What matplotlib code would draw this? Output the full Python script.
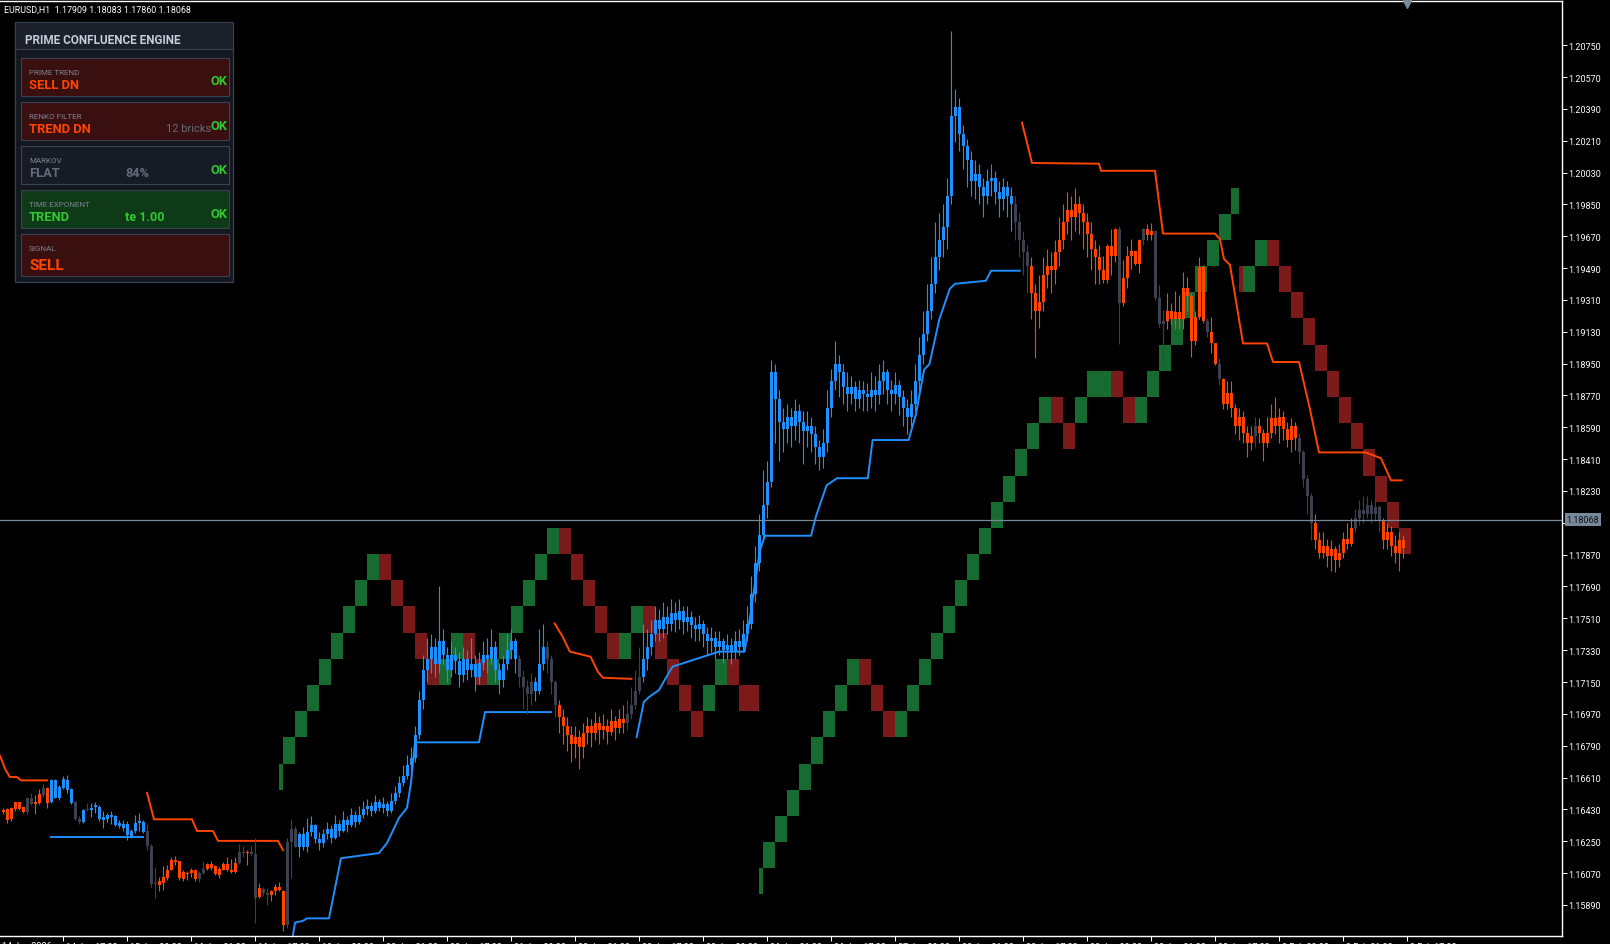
import numpy as np
import matplotlib
matplotlib.use("Agg")
import matplotlib.pyplot as plt
from matplotlib.patches import Rectangle
from matplotlib.transforms import ScaledTranslation

plt.rcParams['font.family'] = ['Roboto', 'DejaVu Sans']

# ---------------- data ----------------
header = "EURUSD,H1  1.17909 1.18083 1.17860 1.18068"
last_price = 1.18068

# bars 0..74
opens_a = [1.16428, 1.16432, 1.16378, 1.16432, 1.16469, 1.16441, 1.16415, 1.16493, 1.16459, 1.16465,
           1.16511, 1.16552, 1.16474, 1.16594, 1.16493, 1.16552, 1.16594, 1.16548, 1.16469, 1.16378,
           1.16359, 1.16433, 1.16428, 1.16441, 1.16446, 1.16385, 1.16378, 1.16400, 1.16391, 1.16354,
           1.16348, 1.16345, 1.16271, 1.16308, 1.16354, 1.16359, 1.16308, 1.16224, 1.16009, 1.16027,
           1.16016, 1.16040, 1.16090, 1.16145, 1.16136, 1.16034, 1.16071, 1.16071, 1.16090, 1.16034,
           1.16068, 1.16095, 1.16119, 1.16108, 1.16058, 1.16090, 1.16119, 1.16090, 1.16077, 1.16126,
           1.16191, 1.16182, 1.16188, 1.16178, 1.15933, 1.15979, 1.15957, 1.15948, 1.15966, 1.15990,
           1.15966, 1.15776, 1.16243, 1.16317, 1.16219]
highs_a = [1.16437, 1.16437, 1.16441, 1.16474, 1.16474, 1.16446, 1.16502, 1.16520, 1.16511, 1.16544,
           1.16576, 1.16557, 1.16603, 1.16603, 1.16566, 1.16618, 1.16622, 1.16552, 1.16478, 1.16391,
           1.16433, 1.16465, 1.16465, 1.16469, 1.16452, 1.16419, 1.16409, 1.16419, 1.16396, 1.16372,
           1.16372, 1.16363, 1.16317, 1.16400, 1.16409, 1.16372, 1.16345, 1.16234, 1.16105, 1.16049,
           1.16108, 1.16114, 1.16160, 1.16169, 1.16141, 1.16086, 1.16082, 1.16101, 1.16095, 1.16082,
           1.16141, 1.16126, 1.16141, 1.16114, 1.16105, 1.16132, 1.16160, 1.16151, 1.16160, 1.16234,
           1.16224, 1.16201, 1.16224, 1.16271, 1.16012, 1.15994, 1.15984, 1.15975, 1.16009, 1.16022,
           1.15975, 1.16271, 1.16378, 1.16335, 1.16300]
lows_a = [1.16404, 1.16354, 1.16363, 1.16419, 1.16428, 1.16409, 1.16404, 1.16452, 1.16404, 1.16459,
          1.16502, 1.16437, 1.16465, 1.16493, 1.16483, 1.16548, 1.16520, 1.16459, 1.16372, 1.16348,
          1.16354, 1.16419, 1.16385, 1.16409, 1.16367, 1.16326, 1.16359, 1.16345, 1.16335, 1.16326,
          1.16308, 1.16256, 1.16267, 1.16298, 1.16308, 1.16298, 1.16201, 1.15994, 1.15929, 1.15966,
          1.15975, 1.16031, 1.16086, 1.16114, 1.16031, 1.16027, 1.16031, 1.16049, 1.16027, 1.16022,
          1.16064, 1.16086, 1.16090, 1.16058, 1.16040, 1.16086, 1.16082, 1.16071, 1.16071, 1.16123,
          1.16160, 1.16114, 1.16169, 1.15790, 1.15929, 1.15938, 1.15892, 1.15910, 1.15948, 1.15966,
          1.15742, 1.15760, 1.16040, 1.16215, 1.16160]
closes_a = [1.16415, 1.16372, 1.16437, 1.16469, 1.16433, 1.16415, 1.16493, 1.16459, 1.16474, 1.16518,
            1.16552, 1.16465, 1.16594, 1.16496, 1.16557, 1.16603, 1.16539, 1.16465, 1.16378, 1.16359,
            1.16428, 1.16426, 1.16437, 1.16452, 1.16378, 1.16372, 1.16400, 1.16385, 1.16341, 1.16335,
            1.16326, 1.16285, 1.16308, 1.16354, 1.16363, 1.16304, 1.16224, 1.16009, 1.16016, 1.16003,
            1.16049, 1.16090, 1.16145, 1.16132, 1.16040, 1.16077, 1.16064, 1.16090, 1.16034, 1.16068,
            1.16095, 1.16119, 1.16101, 1.16064, 1.16095, 1.16123, 1.16086, 1.16077, 1.16126, 1.16188,
            1.16182, 1.16191, 1.16178, 1.15929, 1.15984, 1.15957, 1.15948, 1.15966, 1.15990, 1.15972,
            1.15776, 1.16243, 1.16317, 1.16219, 1.16290]

# bars 75..351 (each bar opens at the previous close)
closes_b = [1.1622, 1.1630, 1.1634, 1.1626, 1.1624, 1.1629, 1.1632, 1.1627, 1.1635, 1.1631,
            1.1637, 1.1634, 1.1640, 1.1636, 1.1640, 1.1643, 1.1645, 1.1642, 1.1647, 1.1644,
            1.1646, 1.1642, 1.1648, 1.1652, 1.1658, 1.1662, 1.1668, 1.1672, 1.1685, 1.1705,
            1.1722, 1.1728, 1.1735, 1.1725, 1.1738, 1.1730, 1.1722, 1.1730, 1.1727, 1.1719,
            1.1728, 1.1722, 1.1725, 1.1718, 1.1726, 1.1730, 1.1728, 1.1735, 1.1722, 1.1716,
            1.1725, 1.1733, 1.1738, 1.1728, 1.1718, 1.1712, 1.1708, 1.1715, 1.1710, 1.1725,
            1.1735, 1.1728, 1.1715, 1.1702, 1.1695, 1.1690, 1.1685, 1.1680, 1.1684, 1.1678,
            1.1686, 1.1690, 1.1686, 1.1692, 1.1688, 1.1690, 1.1687, 1.1693, 1.1689, 1.1694,
            1.1692, 1.1697, 1.1702, 1.1710, 1.1718, 1.1728, 1.1735, 1.1742, 1.1750, 1.1745,
            1.1752, 1.1748, 1.1754, 1.1750, 1.1755, 1.1749, 1.1752, 1.1747, 1.1745, 1.1748,
            1.1742, 1.1738, 1.1740, 1.1735, 1.1738, 1.1733, 1.1736, 1.1732, 1.1738, 1.1735,
            1.1742, 1.1748, 1.1765, 1.1782, 1.1798, 1.1815, 1.1828, 1.1890, 1.1875, 1.1862,
            1.1858, 1.1865, 1.1860, 1.1868, 1.1862, 1.1857, 1.1860, 1.1855, 1.1848, 1.1842,
            1.1850, 1.1870, 1.1885, 1.1895, 1.1890, 1.1882, 1.1878, 1.1882, 1.1875, 1.1880,
            1.1878, 1.1876, 1.1880, 1.1877, 1.1885, 1.1890, 1.1880, 1.1878, 1.1883, 1.1876,
            1.1870, 1.1865, 1.1872, 1.1885, 1.1900, 1.1912, 1.1925, 1.1940, 1.1955, 1.1965,
            1.1972, 1.1990, 1.2035, 1.2040, 1.2025, 1.2018, 1.2010, 1.1998, 1.2002, 1.1995,
            1.1990, 1.1998, 1.2000, 1.1992, 1.1988, 1.1995, 1.1990, 1.1985, 1.1975, 1.1965,
            1.1958, 1.1950, 1.1935, 1.1925, 1.1930, 1.1945, 1.1950, 1.1948, 1.1958, 1.1965,
            1.1975, 1.1982, 1.1978, 1.1985, 1.1980, 1.1975, 1.1968, 1.1960, 1.1955, 1.19478,
            1.19423, 1.19617, 1.19561, 1.19709, 1.19293, 1.19432, 1.19561, 1.19584, 1.19515, 1.19650,
            1.19709, 1.19676, 1.19700, 1.19321, 1.19173, 1.19191, 1.19247, 1.19200, 1.19240, 1.19200,
            1.19380, 1.19330, 1.19080, 1.19214, 1.19497, 1.19191, 1.19127, 1.19066, 1.18947, 1.18862,
            1.18720, 1.18785, 1.18700, 1.18600, 1.18650, 1.18560, 1.18500, 1.18540, 1.18600, 1.18560,
            1.18500, 1.18560, 1.18640, 1.18600, 1.18650, 1.18580, 1.18520, 1.18600, 1.18530, 1.18450,
            1.18300, 1.18200, 1.18050, 1.17950, 1.17880, 1.17920, 1.17860, 1.17900, 1.17840, 1.17880,
            1.17960, 1.17930, 1.18020, 1.18080, 1.18120, 1.18100, 1.18150, 1.18100, 1.18140, 1.18060,
            1.17950, 1.18000, 1.17920, 1.17880, 1.17950, 1.17909, 1.18068]
highs_b = [1.1633, 1.1638, 1.1639, 1.1635, 1.1630, 1.1632, 1.1636, 1.1634, 1.1640, 1.1637,
           1.1642, 1.1639, 1.1644, 1.1642, 1.1645, 1.1648, 1.1649, 1.1647, 1.1651, 1.1649,
           1.1650, 1.1648, 1.1652, 1.1656, 1.1662, 1.1668, 1.1674, 1.1678, 1.1690, 1.1710,
           1.1730, 1.1740, 1.1742, 1.1740, 1.1769, 1.1745, 1.1735, 1.1738, 1.1735, 1.1732,
           1.1735, 1.1733, 1.1740, 1.1730, 1.1732, 1.1738, 1.1740, 1.1745, 1.1738, 1.1726,
           1.1730, 1.1742, 1.1745, 1.1740, 1.1730, 1.1722, 1.1716, 1.1720, 1.1718, 1.1745,
           1.1748, 1.1738, 1.1730, 1.1716, 1.1705, 1.1700, 1.1695, 1.1690, 1.1690, 1.1688,
           1.1692, 1.1695, 1.1694, 1.1698, 1.1696, 1.1697, 1.1694, 1.1700, 1.1696, 1.1700,
           1.1702, 1.1705, 1.1712, 1.1722, 1.1735, 1.1748, 1.1745, 1.1750, 1.1758, 1.1756,
           1.1760, 1.1758, 1.1762, 1.1760, 1.1762, 1.1758, 1.1758, 1.1755, 1.1752, 1.1753,
           1.1750, 1.1746, 1.1746, 1.1744, 1.1744, 1.1740, 1.1742, 1.1740, 1.1744, 1.1745,
           1.1750, 1.1758, 1.1775, 1.1792, 1.1810, 1.1835, 1.1840, 1.1897, 1.1895, 1.1880,
           1.1870, 1.1872, 1.1870, 1.1875, 1.1872, 1.1868, 1.1868, 1.1865, 1.1860, 1.1852,
           1.1858, 1.1880, 1.1892, 1.1908, 1.1900, 1.1895, 1.1890, 1.1888, 1.1885, 1.1886,
           1.1885, 1.1884, 1.1890, 1.1888, 1.1895, 1.1897, 1.1892, 1.1886, 1.1890, 1.1886,
           1.1880, 1.1875, 1.1880, 1.1895, 1.1910, 1.1925, 1.1940, 1.1955, 1.1975, 1.1980,
           1.1985, 1.2000, 1.2083, 1.2050, 1.2045, 1.2030, 1.2022, 1.2015, 1.2010, 1.2008,
           1.2000, 1.2005, 1.2008, 1.2004, 1.1998, 1.2000, 1.1998, 1.1995, 1.1990, 1.1980,
           1.1970, 1.1962, 1.1955, 1.1940, 1.1945, 1.1955, 1.1960, 1.1958, 1.1965, 1.1978,
           1.1985, 1.1992, 1.1990, 1.1994, 1.1990, 1.1985, 1.1980, 1.1975, 1.1965, 1.1962,
           1.19561, 1.19626, 1.19709, 1.19718, 1.19728, 1.19534, 1.19617, 1.19654, 1.19589, 1.19654,
           1.19718, 1.19737, 1.19746, 1.19700, 1.19395, 1.19251, 1.19349, 1.19290, 1.19360, 1.19340,
           1.19469, 1.19441, 1.19349, 1.19247, 1.19552, 1.19510, 1.19210, 1.19214, 1.19066, 1.18979,
           1.18868, 1.18850, 1.18850, 1.18720, 1.18700, 1.18680, 1.18600, 1.18600, 1.18650, 1.18640,
           1.18580, 1.18650, 1.18720, 1.18760, 1.18700, 1.18680, 1.18620, 1.18640, 1.18620, 1.18560,
           1.18460, 1.18320, 1.18220, 1.18100, 1.18000, 1.18000, 1.17960, 1.17950, 1.17920, 1.17930,
           1.18000, 1.18050, 1.18080, 1.18130, 1.18180, 1.18200, 1.18200, 1.18180, 1.18190, 1.18150,
           1.18080, 1.18050, 1.18030, 1.17980, 1.18000, 1.17980, 1.18083]
lows_b = [1.1620, 1.1619, 1.1628, 1.1624, 1.1620, 1.1622, 1.1626, 1.1624, 1.1626, 1.1628,
          1.1630, 1.1630, 1.1633, 1.1633, 1.1635, 1.1638, 1.1640, 1.1639, 1.1641, 1.1642,
          1.1641, 1.1639, 1.1641, 1.1646, 1.1650, 1.1656, 1.1660, 1.1665, 1.1670, 1.1683,
          1.1700, 1.1715, 1.1720, 1.1718, 1.1720, 1.1725, 1.1715, 1.1718, 1.1720, 1.1712,
          1.1715, 1.1716, 1.1718, 1.1710, 1.1714, 1.1722, 1.1720, 1.1725, 1.1715, 1.1708,
          1.1712, 1.1722, 1.1728, 1.1720, 1.1712, 1.1700, 1.1697, 1.1702, 1.1704, 1.1708,
          1.1722, 1.1720, 1.1708, 1.1695, 1.1686, 1.1680, 1.1676, 1.1670, 1.1672, 1.1666,
          1.1672, 1.1680, 1.1678, 1.1682, 1.1680, 1.1683, 1.1680, 1.1685, 1.1682, 1.1686,
          1.1686, 1.1688, 1.1694, 1.1700, 1.1708, 1.1715, 1.1722, 1.1730, 1.1738, 1.1738,
          1.1740, 1.1742, 1.1744, 1.1743, 1.1745, 1.1742, 1.1744, 1.1740, 1.1738, 1.1738,
          1.1735, 1.1730, 1.1732, 1.1728, 1.1730, 1.1726, 1.1728, 1.1725, 1.1728, 1.1730,
          1.1732, 1.1738, 1.1745, 1.1760, 1.1778, 1.1795, 1.1808, 1.1825, 1.1850, 1.1840,
          1.1845, 1.1850, 1.1848, 1.1852, 1.1850, 1.1838, 1.1848, 1.1845, 1.1838, 1.1835,
          1.1836, 1.1845, 1.1865, 1.1880, 1.1876, 1.1872, 1.1868, 1.1872, 1.1868, 1.1870,
          1.1868, 1.1868, 1.1870, 1.1868, 1.1872, 1.1878, 1.1872, 1.1868, 1.1872, 1.1866,
          1.1860, 1.1855, 1.1860, 1.1868, 1.1880, 1.1895, 1.1908, 1.1920, 1.1935, 1.1948,
          1.1955, 1.1960, 1.1985, 1.2020, 1.2015, 1.2005, 1.1995, 1.1990, 1.1988, 1.1985,
          1.1978, 1.1985, 1.1990, 1.1985, 1.1978, 1.1982, 1.1978, 1.1970, 1.1965, 1.1955,
          1.1945, 1.1935, 1.1920, 1.1898, 1.1915, 1.1925, 1.1938, 1.1935, 1.1940, 1.1950,
          1.1960, 1.1968, 1.1965, 1.1970, 1.1968, 1.1960, 1.1955, 1.1948, 1.1940, 1.1940,
          1.19404, 1.19404, 1.19450, 1.19524, 1.19062, 1.19275, 1.19376, 1.19487, 1.19506, 1.19460,
          1.19620, 1.19650, 1.19650, 1.19310, 1.19155, 1.18951, 1.19145, 1.19170, 1.19145, 1.19145,
          1.19145, 1.19247, 1.18988, 1.19053, 1.19201, 1.19180, 1.19100, 1.19010, 1.18940, 1.18831,
          1.18692, 1.18692, 1.18650, 1.18550, 1.18520, 1.18500, 1.18420, 1.18460, 1.18480, 1.18500,
          1.18400, 1.18480, 1.18530, 1.18550, 1.18500, 1.18520, 1.18480, 1.18450, 1.18460, 1.18380,
          1.18250, 1.18100, 1.17950, 1.17900, 1.17850, 1.17850, 1.17800, 1.17780, 1.17770, 1.17800,
          1.17850, 1.17900, 1.17920, 1.18000, 1.18040, 1.18050, 1.18080, 1.18050, 1.18060, 1.18000,
          1.17900, 1.17900, 1.17860, 1.17820, 1.17780, 1.17850, 1.17860]

# o = sell trend (orange), b = buy trend (blue), g = neutral (gray)
state = ("oooooo" "gg" "oo" "g" "o" "bbbbbb" "gg" "b" "g" "bbbbbbbbbbbbbb" "ggg"
         "oooooooooo" "gg" "oooooooo" "gg" "o" "gg" "o" "gg" "oooo" "ggg" "b"
         + "b" * 54 + "gggg" + "bbb" + "ggg" + "o" * 17 + "gggg" + "b" * 93 + "gggg"
         + "o" * 18
         + "oooogooooogoogggoooooooooogoogoo"
         + "o" * 6 + "g" + "o" * 10 + "gggg" + "o" * 10 + "g" * 7 + "o" * 6)

# trailing stop lines (bar, price), None splits segments
up_x = [12, 35, None, 72.5, 73, 75, 76, 81.5, 84.5, 94, 96, 99, 101, 102, 103, 119, 120.5, 137, None,
        158.4, 160.2, 161.5, 164, 166.6, 167.4, 179, 185.4, 186.6, 189.2, 190.5, 202, 203.3, 205.9,
        208.5, 216.2, 217.4, 226.4, 228.2, 230.3, 231.6, 234.1, 236.7, 238, 245.7, 247, 254.2]
up_y = [1.16274, 1.16274, None, 1.1572, 1.1579, 1.1580, 1.15814, 1.15814, 1.16154, 1.16183, 1.16240,
        1.16382, 1.16439, 1.16581, 1.16809, 1.16809, 1.16980, 1.16980, None,
        1.16838, 1.17037, 1.17065, 1.17105, 1.17208, 1.17237, 1.17322, 1.17322, 1.17493, 1.17892,
        1.17977, 1.17977, 1.18091, 1.18262, 1.18302, 1.18302, 1.18518, 1.18518, 1.18661, 1.18917,
        1.18946, 1.19202, 1.19373, 1.19401, 1.19418, 1.19475, 1.19475]
dn_x = [-0.75, 0.5, 1.7, 3.5, 4.5, 11, None, 36, 37.75, 47.25, 48.5, 52.5, 53.75, 68.75, 70, None,
        137.9, 139.9, 141.7, 146.9, 148.7, 150, 157.1, None,
        254.75, 257.25, 274, 274.5, 288, 290, 303, 304.25, 305.25, 306.75, 310, 316, 317.5, 324,
        326.75, 329, 340.7, 344.5, 347, 349.7]
dn_y = [1.16733, 1.1666, 1.16613, 1.16613, 1.16594, 1.16594, None, 1.16524, 1.16374, 1.16374,
        1.16308, 1.16308, 1.16252, 1.16252, 1.1620, None,
        1.17481, 1.17407, 1.17322, 1.17293, 1.17208, 1.17174, 1.17168, None,
        1.20312, 1.20084, 1.2008, 1.2004, 1.2004, 1.19685, 1.19685, 1.19652, 1.19541, 1.19508,
        1.19064, 1.19064, 1.18959, 1.18959, 1.18692, 1.18448, 1.18448, 1.18415, 1.1829, 1.1829]

# renko bricks: start bar, level (bricks above brick_base), g = up / r = down
brick_base = 1.16541
brick_size = 0.00148
brick_start = [69, 70, 73, 76, 79, 82, 85, 88, 91, 94, 97, 100, 103, 106, 109, 112, 115, 118, 121,
               124, 127, 130, 133, 136, 139, 142, 145, 148, 151, 154, 157, 160, 163, 166, 169, 172,
               175, 178, 181, 184, 187,
               189, 190, 193, 196, 199, 202, 205, 208, 211, 214, 217, 220, 223, 226, 229, 232, 235,
               238, 241, 244, 247, 250, 253, 256, 259, 262, 265, 268, 271, 274, 277, 280, 283, 286,
               289, 292, 295, 298, 301, 304, 307, 309, 310, 313, 316, 319, 322, 325, 328, 331, 334,
               337, 340, 343, 346, 349]
brick_level = [0, 1, 2, 3, 4, 5, 6, 7, 8, 8, 7, 6, 5, 4, 4, 5, 5, 4, 4,
               5, 6, 7, 8, 9, 9, 8, 7, 6, 5, 5, 6, 6, 5, 4, 3, 2,
               3, 4, 4, 3, 3,
               -4, -3, -2, -1, 0, 1, 2, 3, 4, 4, 3, 2, 2, 3, 4, 5, 6,
               7, 8, 9, 10, 11, 12, 13, 14, 14, 13, 14, 15, 15, 15, 14, 14, 15,
               16, 17, 18, 19, 20, 21, 22, 19, 19, 20, 20, 19, 18, 17, 16, 15, 14,
               13, 12, 11, 10, 9]
brick_dir = ("ggggggggg" "rrrr" "rggrrg" "gggggrrrrr" "ggrrrrr" "ggrr" "r"
             "ggggggggg" "rrr" "ggggggggggggg" "rrggg" "rr" "ggggggggg" "r" "gg"
             "rrrrrrrrrrrr")

ytick_vals = [1.15890, 1.16070, 1.16250, 1.16430, 1.16610, 1.16790, 1.16970, 1.17150, 1.17330,
              1.17510, 1.17690, 1.17870, 1.18050, 1.18230, 1.18410, 1.18590, 1.18770, 1.18950,
              1.19130, 1.19310, 1.19490, 1.19670, 1.19850, 1.20030, 1.20210, 1.20390, 1.20570,
              1.20750]
xtick_bars = [15, 31, 47, 63, 79, 95, 111, 127, 143, 159, 175, 191, 207, 223, 239, 255, 271, 287,
              303, 319, 335, 351]
xtick_labels = ["14 Jan 17:00", "15 Jan 09:00", "16 Jan 01:00", "16 Jan 17:00", "19 Jan 09:00",
                "20 Jan 01:00", "20 Jan 17:00", "21 Jan 09:00", "22 Jan 01:00", "22 Jan 17:00",
                "23 Jan 09:00", "26 Jan 01:00", "26 Jan 17:00", "27 Jan 09:00", "28 Jan 01:00",
                "28 Jan 17:00", "29 Jan 09:00", "30 Jan 01:00", "30 Jan 17:00", "2 Feb 09:00",
                "3 Feb 01:00", "3 Feb 17:00"]
first_label = "14 Jan 2026"

# dashboard rows
row_titles = ["PRIME TREND", "RENKO FILTER", "MARKOV", "TIME EXPONENT", "SIGNAL"]
row_values = ["SELL DN", "TREND DN", "FLAT", "TREND", "SELL"]
row_notes = ["", "12 bricks", "84%", "te 1.00", ""]
row_status = ["OK", "OK", "OK", "OK", ""]

# ---------------- styling ----------------
ORANGE = "#ff4500"
BLUE = "#1e90ff"
GRAY = "#3c4150"
CANDLE_COL = {"o": ORANGE, "b": BLUE, "g": GRAY}
BRICK_COL = {"g": "#176a30", "r": "#7a1a1a"}
LIME = "#32c832"
MUTED = "#646b7c"
row_bg = ["#3a0f10", "#3a0f10", "#171b25", "#0f3a17", "#3a0f10"]
row_val_col = [ORANGE, ORANGE, MUTED, LIME, ORANGE]
row_note_col = [MUTED, MUTED, MUTED, LIME, MUTED]

W, H = 1610, 945
fig = plt.figure(figsize=(W / 100, H / 100), dpi=100, facecolor="black")
ax = fig.add_axes([0, 8 / H, 1562 / W, 935 / H], facecolor="black")
ax.set_xlim(-0.75, 389.75)
ax.set_ylim(1.157143, 1.209997)

# candles
c = np.array(closes_a + closes_b)
o = np.array(opens_a + [closes_a[-1]] + closes_b[:-1])
hi = np.array(highs_a + highs_b)
lo = np.array(lows_a + lows_b)
n = min(len(c), len(o), len(hi), len(lo), len(state))
xb = np.arange(n)
cols = [CANDLE_COL[s] for s in state[:n]]
ax.vlines(xb, lo[:n], hi[:n], colors=cols, lw=0.8, zorder=3)
body_lo = np.minimum(o[:n], c[:n])
body_h = np.maximum(np.abs(c[:n] - o[:n]), 0.00006)
ax.bar(xb, body_h, bottom=body_lo, width=0.75, color=cols, lw=0, zorder=4)

# renko bricks
bs = np.array(brick_start, dtype=float)
widths = np.append(np.minimum(np.diff(bs), 3), 3)
nb = min(len(bs), len(brick_level), len(brick_dir))
ax.bar(bs[:nb], brick_size, width=widths[:nb],
       bottom=[brick_base + k * brick_size for k in brick_level[:nb]],
       align="edge", color=[BRICK_COL[d] for d in brick_dir[:nb]], lw=0, zorder=1)

# trailing stops
ax.plot(np.array(up_x, dtype=float), np.array(up_y, dtype=float), color=BLUE, lw=1.4, zorder=2)
ax.plot(np.array(dn_x, dtype=float), np.array(dn_y, dtype=float), color=ORANGE, lw=1.4, zorder=2)

# current price line
ax.axhline(last_price, color="#778899", lw=0.9, zorder=5)

# frame and axes
for side in ("top", "right", "bottom"):
    ax.spines[side].set_color("white")
    ax.spines[side].set_linewidth(1.0)
ax.spines["left"].set_visible(False)
ax.yaxis.tick_right()
ax.set_yticks(ytick_vals)
# the 1.18050 label sits under the live-price box
ax.set_yticklabels(["" if abs(v - 1.1805) < 1e-6 else f"{v:.5f}" for v in ytick_vals])
ax.tick_params(axis="y", colors="white", length=3.6, width=0.72, pad=0.8, labelsize=6.5)
ax.set_xticks(xtick_bars)
ax.set_xticklabels(xtick_labels)
ax.tick_params(axis="x", colors="white", length=3.6, width=0.72, pad=0.5, labelsize=6.5)
shift = ScaledTranslation(3 / 100, 0, fig.dpi_scale_trans)
for lbl in ax.get_xticklabels():
    lbl.set_ha("left")
    lbl.set_transform(lbl.get_transform() + shift)

ax.annotate(f"{last_price:.5f}", xy=(1, last_price), xycoords=("axes fraction", "data"),
            xytext=(3.2, 0), textcoords="offset points", va="center", ha="left",
            fontsize=6.5, color="#0d1117", zorder=20, annotation_clip=False,
            bbox=dict(boxstyle="square,pad=0.18", fc="#778899", ec="none"))
ax.plot([351], [1 - 3 / 935], marker="v", ms=6, color="#778899",
        transform=ax.get_xaxis_transform(), clip_on=False, zorder=20)

# overlay in pixel coordinates
ov = fig.add_axes([0, 0, 1, 1])
ov.set_xlim(0, W)
ov.set_ylim(H, 0)
ov.axis("off")
ov.patch.set_alpha(0)
ov.set_zorder(10)

ov.text(4, 13, header, color="white", fontsize=6.4, va="baseline")
ov.text(2, 942, first_label, color="white", fontsize=6.5, va="top")

ov.add_patch(Rectangle((15, 23), 218, 260, fc="#131720", ec="#394050", lw=0.9))
ov.add_patch(Rectangle((15.5, 23.5), 217, 26.5, fc="#1b202b", ec="none"))
ov.plot([15, 233], [50, 50], color="#394050", lw=0.8)
ov.text(25, 44, "PRIME CONFLUENCE ENGINE", color="#c5cddd", fontsize=8.5,
        fontweight="bold", va="baseline")

row_top = [59, 103, 147, 191, 235]
for r in range(5):
    y0 = row_top[r]
    hgt = 42 if r == 4 else 38
    ov.add_patch(Rectangle((21, y0), 208, hgt, fc=row_bg[r], ec="#3a4152", lw=0.8))
    ov.text(29, y0 + 16, row_titles[r], color="#7d8393", fontsize=5.8, va="baseline")
    big = r == 4
    ov.text(29, y0 + (35 if big else 30), row_values[r], color=row_val_col[r],
            fontsize=11 if big else 9.3, fontweight="bold", va="baseline")
    if row_notes[r]:
        nx = 166 if r == 1 else 125
        ov.text(nx, y0 + (29 if r == 1 else 30), row_notes[r], color=row_note_col[r],
                fontsize=8 if r == 1 else 9, fontweight="normal" if r == 1 else "bold",
                va="baseline")
    if row_status[r]:
        ov.text(210, y0 + (26 if r == 0 else 27), row_status[r], color=LIME, fontsize=9.3,
                fontweight="bold", va="baseline")

fig.savefig("out.png", dpi=100, facecolor="black")
